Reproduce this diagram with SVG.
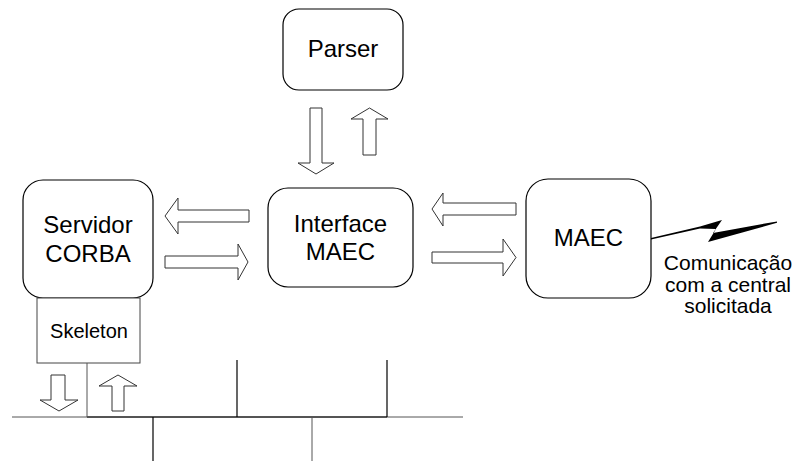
<svg xmlns="http://www.w3.org/2000/svg" width="794" height="461" viewBox="0 0 794 461">
<style>
.box{fill:#fff;stroke:#000;stroke-width:1.2}
.t{font-family:"Liberation Sans",Arial,sans-serif;font-size:24px;fill:#000;text-anchor:middle}
.s{font-size:20px}
.c{font-size:21px}
.arr{fill:#fff;stroke:#333;stroke-width:1}
.ln{stroke:#000;stroke-width:1.2;fill:none}
.lg{stroke:#555;stroke-width:1;fill:none}
</style>
<rect width="794" height="461" fill="#fff"/>
<g id="parser">
<rect class="box" x="283" y="9" width="120" height="81" rx="16"/>
<text class="t" x="343" y="57">Parser</text>
</g>
<g id="servidor">
<rect class="box" x="23" y="180" width="130" height="118" rx="20"/>
<text class="t" x="88" y="233">Servidor</text>
<text class="t" x="88" y="262">CORBA</text>
</g>
<g id="skeleton">
<rect x="37" y="298" width="103" height="65" fill="#fff" stroke="#444" stroke-width="1"/>
<text class="t s" x="89" y="338">Skeleton</text>
</g>
<g id="interface">
<rect class="box" x="268" y="188" width="145" height="99" rx="20"/>
<text class="t" x="340.5" y="232">Interface</text>
<text class="t" x="340.5" y="260">MAEC</text>
</g>
<g id="maec">
<rect class="box" x="526" y="179" width="125" height="119" rx="22"/>
<text class="t" x="588.5" y="246">MAEC</text>
</g>
<g id="comunicacao">
<text class="t c" x="728" y="270">Comunicação</text>
<text class="t c" x="728" y="292">com a central</text>
<text class="t c" x="728" y="313">solicitada</text>
</g>
<g id="connectors">
<path class="arr" d="M310,108 H322 V163 H334 L316,174 L298,163 H310 Z"/>
<path class="arr" d="M369.5,108 L388,119 H376 V155 H363 V119 H351 Z"/>
<path class="arr" d="M165,216 L178,198 V210 H249 V222 H178 V234 Z"/>
<path class="arr" d="M165,256 H238 V244 L248,262 L238,280 V268 H165 Z"/>
<path class="arr" d="M432,209 L443,193 V203 H516 V215 H443 V226 Z"/>
<path class="arr" d="M432,252 H503 V239 L516,257.5 L503,276 V263 H432 Z"/>
<path class="arr" d="M51,375 H65 V400 H78 L59,411 L40,400 H51 Z"/>
<path class="arr" d="M118,375 L137,386 H124 V411 H112 V386 H99 Z"/>
<polygon fill="#000" points="651,238 700,226.6 722,220 713,233 777,221.4 777,222.8 708,242 716,229 700,228.4 651,239.6"/>
<line class="lg" x1="12" y1="417" x2="463" y2="417"/>
<line class="ln" x1="87" y1="417" x2="387" y2="417" stroke-width="1.6"/>
<line class="lg" x1="87" y1="363" x2="87" y2="417"/>
<line class="ln" x1="237" y1="360" x2="237" y2="417"/>
<line class="ln" x1="387" y1="360" x2="387" y2="417"/>
<line class="ln" x1="153" y1="417" x2="153" y2="461"/>
<line class="lg" x1="312" y1="417" x2="312" y2="461"/>
</g>
</svg>
